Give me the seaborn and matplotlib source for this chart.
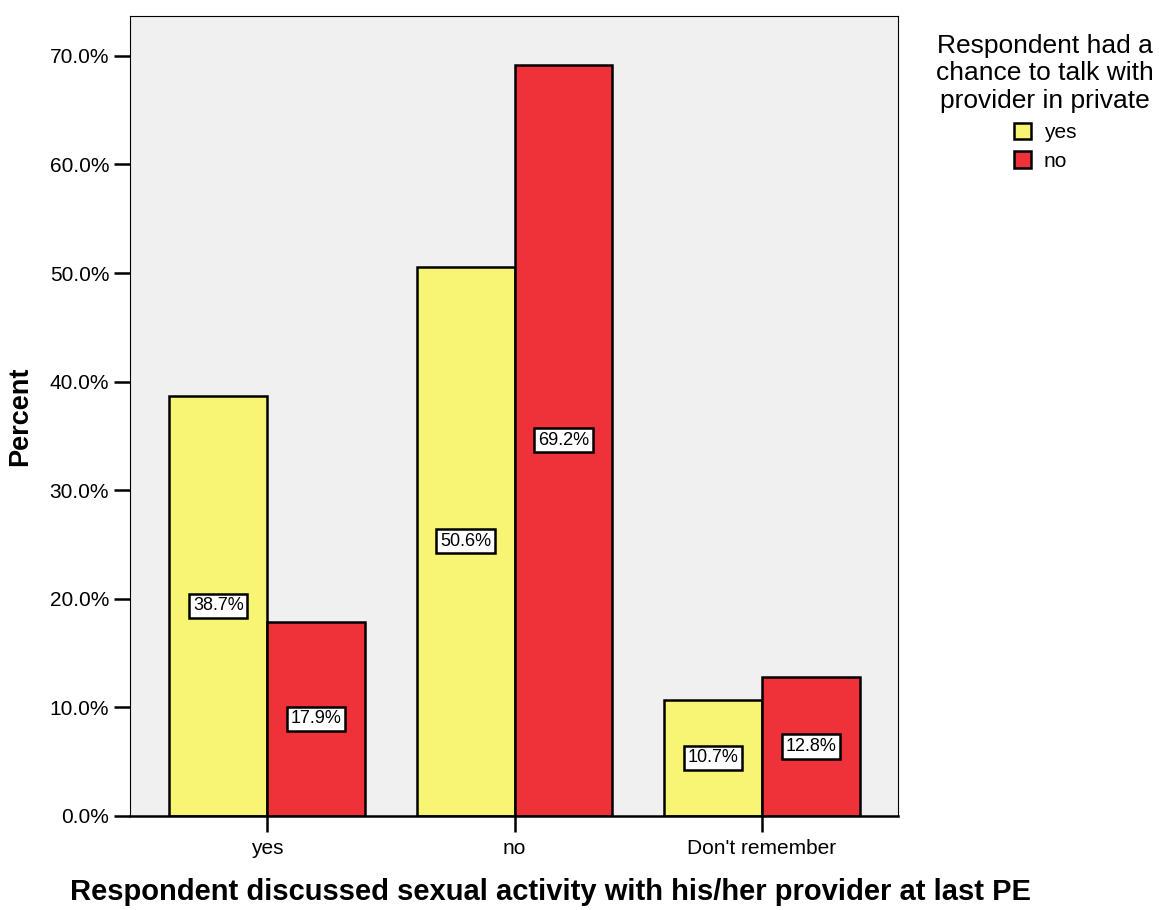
import numpy as np
import pandas as pd
import matplotlib
matplotlib.use("Agg")
import matplotlib.pyplot as plt
import seaborn as sns
from matplotlib.ticker import FuncFormatter

categories = ["yes", "no", "Don't remember"]
private_groups = ["yes", "no"]
pct_yes = [38.7, 50.6, 10.7]
pct_no = [17.9, 69.2, 12.8]

df = pd.DataFrame({
    "discussed": categories * 2,
    "private": ["yes"] * 3 + ["no"] * 3,
    "percent": pct_yes + pct_no,
})

sns.set_style("white")
plt.rcParams["font.family"] = ["Liberation Sans", "DejaVu Sans"]
plt.rcParams["text.color"] = "black"
plt.rcParams["axes.labelcolor"] = "black"
plt.rcParams["xtick.color"] = "black"
plt.rcParams["ytick.color"] = "black"

fig = plt.figure(figsize=(11.59, 9.10), dpi=100)
ax = fig.add_axes([0.1122, 0.1033, 0.6626, 0.8791])
ax.set_facecolor("#f0f0f0")

palette = {"yes": "#f8f575", "no": "#ef3239"}
sns.barplot(data=df, x="discussed", y="percent", hue="private",
            order=categories, hue_order=private_groups, palette=palette,
            width=0.79, edgecolor="black", linewidth=1.8, saturation=1,
            ax=ax)

# value labels in the middle of each bar
for p in ax.patches:
    h = p.get_height()
    if h <= 0 or np.isnan(h):
        continue
    ax.text(p.get_x() + p.get_width() / 2, h / 2, f"{h:.1f}%",
            ha="center", va="center", fontsize=13,
            bbox=dict(boxstyle="square,pad=0.2", fc="white", ec="black", lw=1.8))

ax.set_ylim(0, 73.67)
ax.set_xlim(-0.554, 2.55)
ax.set_yticks(np.arange(0, 71, 10))
ax.yaxis.set_major_formatter(FuncFormatter(lambda v, _: f"{v:.1f}%"))
ax.tick_params(axis="both", which="major", labelsize=15, length=11.5, width=1.8,
               direction="out", left=True, bottom=True)
ax.tick_params(axis="y", pad=3.5)
ax.tick_params(axis="x", pad=5)

for s in ["top", "right", "left"]:
    ax.spines[s].set_linewidth(0.8)
    ax.spines[s].set_color("black")
ax.spines["bottom"].set_linewidth(1.8)
ax.spines["bottom"].set_color("black")

ax.set_ylabel("Percent", fontsize=19.5, fontweight="bold")
ax.yaxis.set_label_coords(-0.126, 0.5)
ax.set_xlabel("Respondent discussed sexual activity with his/her provider at last PE",
              fontsize=21, fontweight="bold")
ax.xaxis.set_label_coords(0.548, -0.077)

handles, labels = ax.get_legend_handles_labels()
ax.legend_.remove()
leg = fig.legend(handles, labels,
                 title="Respondent had a\nchance to talk with\nprovider in private",
                 loc="upper center", bbox_to_anchor=(0.9017, 0.963),
                 frameon=False, fontsize=15, title_fontsize=19,
                 handlelength=0.82, handleheight=0.82, handletextpad=0.62,
                 labelspacing=0.45, borderaxespad=0, borderpad=0.0)
leg.get_title().set_multialignment("center")
for h in leg.legend_handles:
    h.set_edgecolor("black")
    h.set_linewidth(1.8)

fig.savefig("out.png", dpi=100)
